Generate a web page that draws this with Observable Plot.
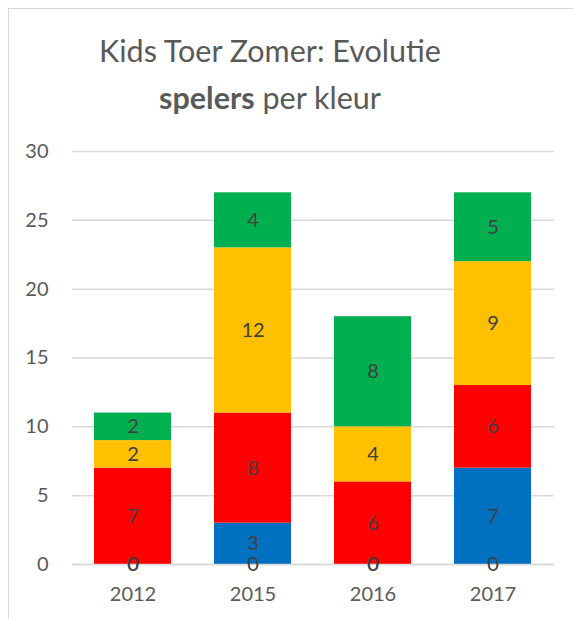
<!DOCTYPE html>
<html><head><meta charset="utf-8">
<script src="https://cdn.jsdelivr.net/npm/d3@7"></script>
<script src="https://cdn.jsdelivr.net/npm/@observablehq/plot@0.6"></script>
<style>
html,body{margin:0;padding:0;overflow:hidden;background:#fff;width:573px;height:619px;}
#frame{position:absolute;left:8px;top:8px;width:700px;height:700px;border:1.5px solid #d9d9d9;}
#title{position:absolute;left:0;top:0;width:540px;text-align:center;font-family:Lato,sans-serif;font-size:30.5px;line-height:47px;color:#595959;padding-top:27px}
#chart{position:absolute;left:0;top:130px}
</style></head><body>
<div id="frame"></div>
<div id="title">Kids Toer Zomer: Evolutie<br><b>spelers</b> per kleur</div>
<div id="chart"></div>
<script>
const years = ["2012", "2015", "2016", "2017"];
const seriesNames = ["Wit", "Blauw", "Rood", "Geel", "Groen"];
const seriesColors = ["#ffffff", "#0070C0", "#FF0000", "#FFC000", "#00B050"];
const wit = [0, 0, 0, 0];
const blauw = [0, 3, 0, 7];
const rood = [7, 8, 6, 6];
const geel = [2, 12, 4, 9];
const groen = [2, 4, 8, 5];
const yTicks = [0, 5, 10, 15, 20, 25, 30];

const values = [wit, blauw, rood, geel, groen];
const data = [];
seriesNames.forEach((s, i) => years.forEach((y, j) => data.push({year: y, series: s, value: values[i][j]})));

const chart = Plot.plot({
  width: 573,
  height: 484,
  marginLeft: 72,
  marginRight: 19,
  marginTop: 21,
  marginBottom: 50,
  style: {fontFamily: "Lato, sans-serif", fontSize: "20px", color: "#595959", background: "transparent"},
  x: {domain: years, paddingInner: 0.355, paddingOuter: 0.17, label: null, tickSize: 0, tickPadding: 22},
  y: {domain: [0, 30], ticks: yTicks, label: null, tickSize: 0, tickPadding: 24},
  color: {domain: seriesNames, range: seriesColors},
  marks: [
    Plot.gridY(yTicks, {stroke: "#d9d9d9", strokeOpacity: 1, strokeWidth: 1.5}),
    Plot.barY(data, Plot.stackY({x: "year", y: "value", z: "series", fill: "series"})),
    Plot.ruleY([0], {stroke: "#d9d9d9", strokeWidth: 1.5}),
    Plot.text(data, Plot.stackY({x: "year", y: "value", z: "series", text: d => String(d.value), fill: "#404040", fontSize: 20}))
  ]
});
document.getElementById("chart").appendChild(chart);
</script>
</body></html>
